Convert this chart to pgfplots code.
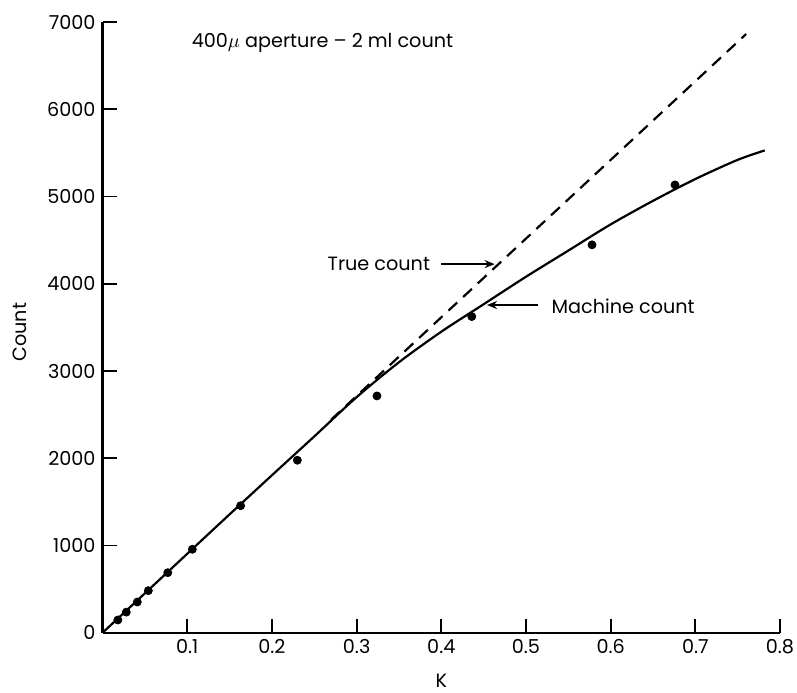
\documentclass[border=0pt]{standalone}
\usepackage{fontspec}
\setmainfont{Poppins}
\usepackage{pgfplots}
\pgfplotsset{compat=1.18}
\usetikzlibrary{arrows.meta}

\begin{document}
\begin{tikzpicture}[font=\fontsize{9.6}{11}\selectfont]
\begin{axis}[
  scale only axis,
  width=338.7pt, height=305.35pt,
  xmin=0, xmax=0.8, ymin=0, ymax=7000,
  axis lines*=left,
  axis line style={line width=1.1pt},
  xtick={0.1,0.2,0.3,0.4,0.5,0.6,0.7,0.8},
  ytick={0,1000,2000,3000,4000,5000,6000,7000},
  tick align=inside, major tick length=7pt,
  tick style={line width=0.9pt, black},
  /pgf/number format/assume math mode=true,
  xticklabel style={/pgf/number format/.cd, fixed, precision=1, zerofill},
  yticklabel style={/pgf/number format/.cd, 1000 sep={}},
  xlabel={K}, ylabel={Count},
  xlabel style={at={(axis description cs:0.5,-0.0786)}, anchor=center},
  ylabel style={at={(axis description cs:-0.1225,0.492)}, anchor=center},
  clip=false,
]
% machine count (fitted curve)
\addplot[line width=1.1pt, smooth] coordinates {
  (0,0) (0.05,452) (0.1,905) (0.15,1357) (0.2,1805) (0.25,2250)
  (0.3,2700) (0.35,3100) (0.4,3450) (0.45,3765) (0.5,4080)
  (0.55,4380) (0.6,4680) (0.65,4950) (0.7,5200) (0.75,5420) (0.782,5528)
};
% true count
\addplot[line width=1.1pt, dash pattern=on 6pt off 4pt] coordinates {
  (0.27,2443) (0.76,6862)
};
% measured points
\addplot[only marks, mark=*, mark size=2pt] coordinates {
  (0.018,146) (0.028,236) (0.041,352) (0.054,482) (0.077,688) (0.106,956)
  (0.163,1456) (0.230,1977) (0.324,2714) (0.436,3624) (0.578,4446) (0.676,5133)
};
\node[anchor=west] at (axis cs:0.097,6762) {400$\mu$ aperture – 2 ml count};
\node[anchor=east] at (axis cs:0.395,4225) {True count};
\draw[line width=0.8pt, -{Stealth[length=5pt,width=4pt]}] (axis cs:0.400,4225) -- (axis cs:0.463,4225);
\node[anchor=west] at (axis cs:0.522,3745) {Machine count};
\draw[line width=0.8pt, -{Stealth[length=5pt,width=4pt]}] (axis cs:0.514,3756) -- (axis cs:0.454,3756);
\end{axis}
\pgfresetboundingbox
\path (-51.3pt,-29.65pt) rectangle (347.2pt,316.35pt);
\end{tikzpicture}
\end{document}
